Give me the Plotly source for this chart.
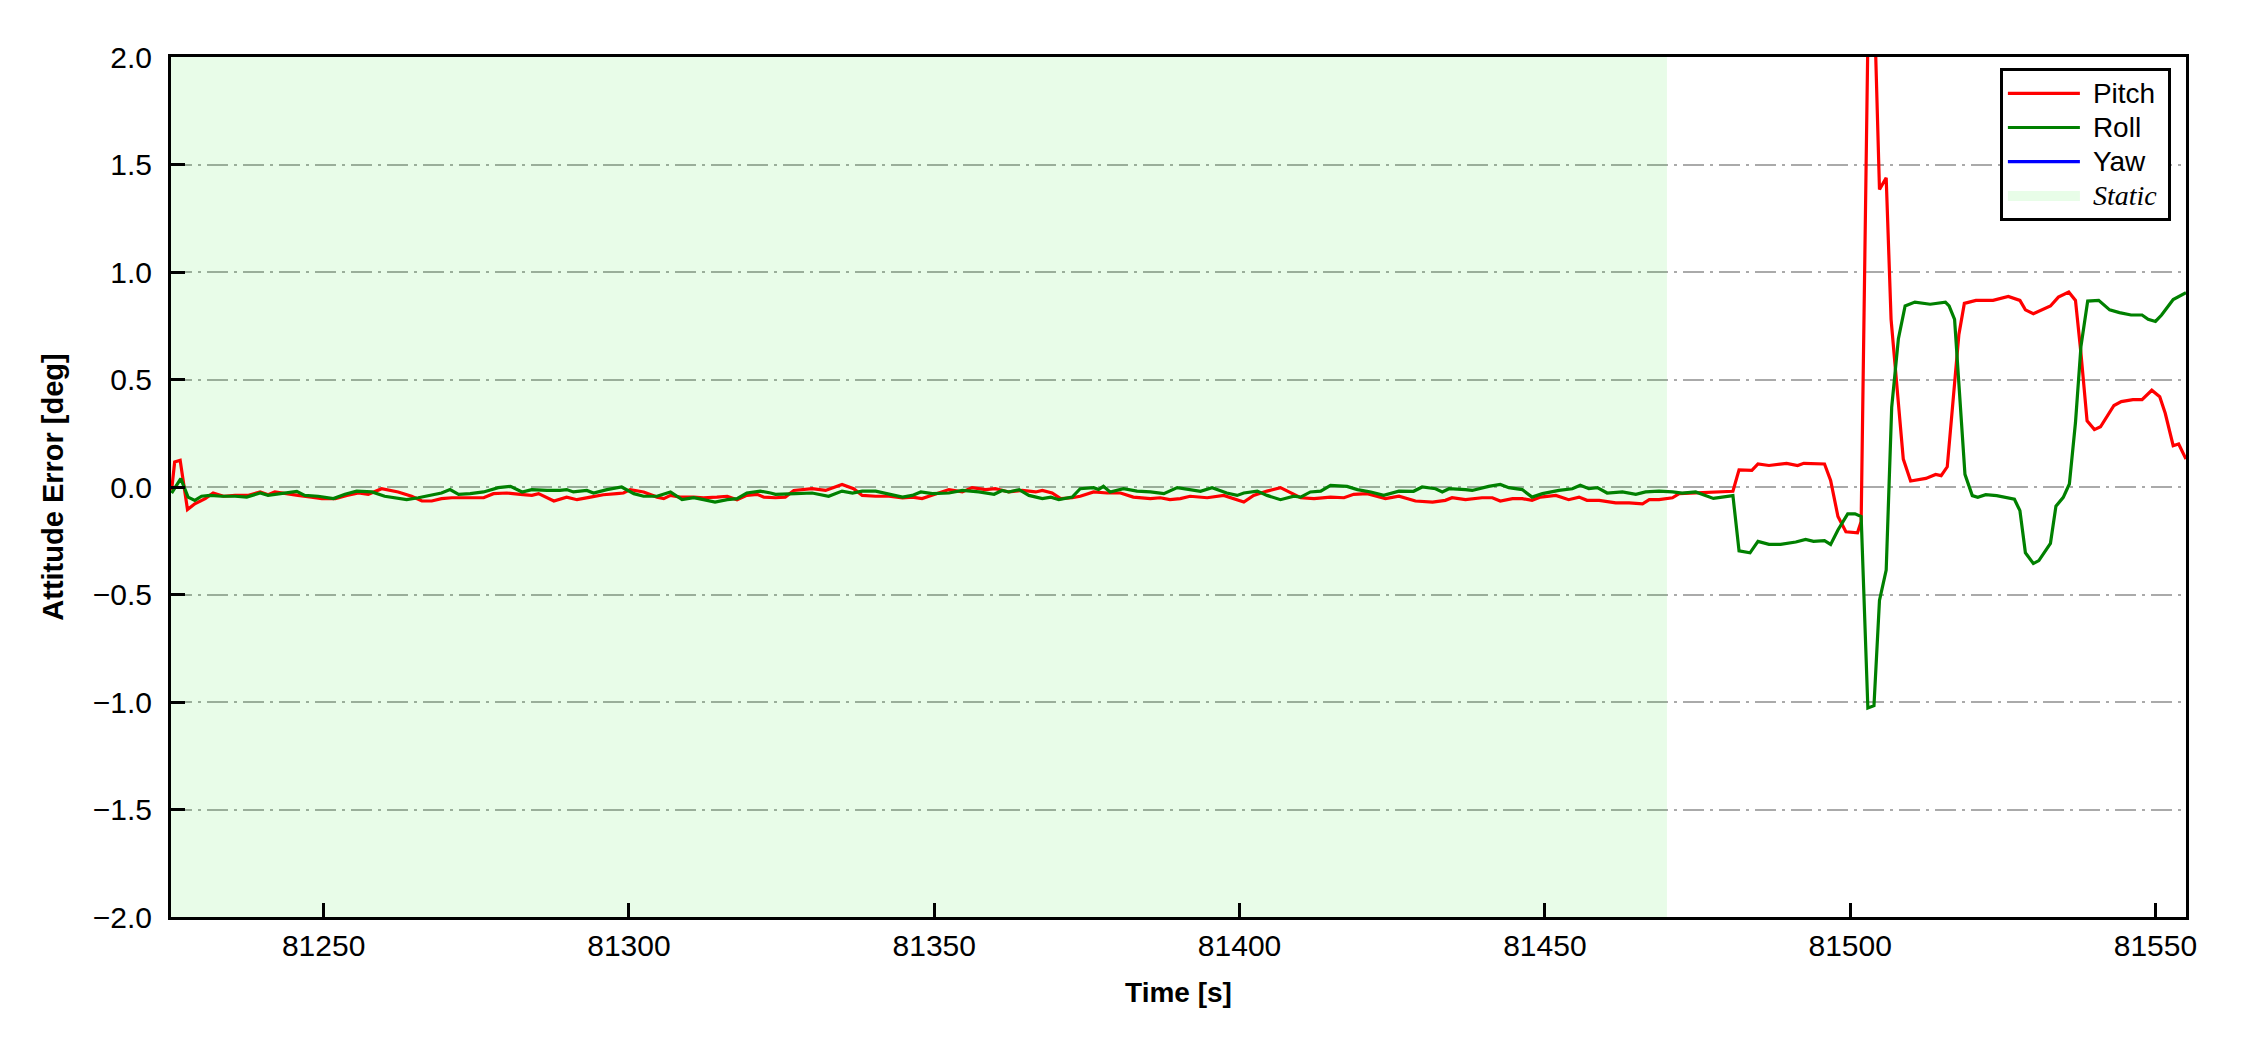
import plotly.graph_objects as go

# ---------------- data ----------------
pitch_t = [81225.1, 81225.6, 81226.5, 81227.7, 81228.9, 81230.6, 81231.9, 81233.6, 81235.5, 81237.7,
           81239.6, 81240.9, 81242.0, 81243.7, 81245.8, 81248.0, 81249.7, 81251.9, 81253.8, 81255.7,
           81257.3, 81259.5, 81262.2, 81264.4, 81266.1, 81267.7, 81269.3, 81271.0, 81273.2,
           81274.0, 81276.2, 81277.8, 81280.0, 81282.2, 81284.1, 81285.2, 81287.7, 81289.8, 81291.5,
           81293.7, 81295.8, 81298.0, 81299.1, 81300.2, 81302.4, 81304.6, 81305.7, 81306.8, 81308.4,
           81310.6, 81312.2, 81314.4, 81316.1, 81317.7, 81319.3, 81321.0, 81322.1,
           81324.0, 81325.6, 81327.0, 81330.0, 81332.2, 81334.9, 81336.8, 81338.2, 81340.4, 81342.6,
           81344.8, 81346.4, 81348.0, 81350.2, 81352.4, 81354.6, 81356.2, 81358.4, 81360.0, 81362.2,
           81364.4, 81366.6, 81367.7, 81369.3, 81370.7, 81372.6,
           81373.9, 81376.1, 81378.3, 81380.5, 81382.6, 81385.4, 81387.0, 81388.6, 81390.3, 81391.9,
           81394.7, 81397.4, 81399.6, 81400.7, 81402.3, 81404.5, 81406.7, 81408.0, 81410.0, 81412.2,
           81414.9, 81417.1, 81418.7, 81420.9, 81423.1,
           81423.9, 81426.1, 81428.8, 81431.6, 81433.7, 81434.8, 81437.0, 81439.7, 81441.4, 81442.7,
           81444.7, 81446.3, 81447.9, 81449.3, 81451.8, 81453.9, 81455.6, 81456.9, 81458.9, 81461.6,
           81463.8, 81466.0, 81467.1, 81468.7, 81470.9, 81472.0, 81474.7,
           81480.8, 81481.8, 81483.9, 81484.9, 81486.7, 81489.6, 81491.4, 81492.4, 81495.8, 81496.8,
           81498.0, 81499.3, 81501.2, 81501.8, 81503.3, 81504.8, 81505.9, 81506.7, 81508.7, 81509.9,
           81512.4, 81514.0, 81514.9, 81515.9, 81516.8, 81517.8, 81518.7, 81520.6, 81523.4, 81525.9,
           81527.8, 81528.7, 81530.0, 81531.9, 81532.8, 81534.1, 81535.8, 81536.9, 81537.8, 81538.8,
           81540.0, 81541.0, 81543.2, 81544.4, 81546.3, 81547.8, 81549.4, 81550.7, 81551.6, 81552.9,
           81553.8, 81555.0]
pitch_v = [-0.016, 0.116, 0.124, -0.105, -0.078, -0.054, -0.028, -0.043, -0.039, -0.039,
           -0.023, -0.036, -0.023, -0.031, -0.039, -0.047, -0.054, -0.054, -0.039, -0.028,
           -0.034, -0.008, -0.023, -0.043, -0.065, -0.065, -0.054, -0.050, -0.050,
           -0.050, -0.050, -0.031, -0.028, -0.034, -0.039, -0.031, -0.065, -0.047, -0.059,
           -0.047, -0.036, -0.031, -0.028, -0.012, -0.023, -0.047, -0.054, -0.039, -0.047,
           -0.047, -0.050, -0.047, -0.043, -0.059, -0.039, -0.034, -0.047,
           -0.050, -0.047, -0.016, -0.008, -0.016, 0.012, -0.008, -0.039, -0.043, -0.043,
           -0.051, -0.047, -0.054, -0.034, -0.012, -0.023, -0.003, -0.012, -0.008, -0.023,
           -0.016, -0.023, -0.016, -0.028, -0.054, -0.050,
           -0.043, -0.023, -0.028, -0.028, -0.047, -0.054, -0.050, -0.059, -0.054, -0.043,
           -0.050, -0.039, -0.059, -0.070, -0.039, -0.019, -0.003, -0.023, -0.050, -0.054,
           -0.047, -0.050, -0.034, -0.031, -0.050,
           -0.054, -0.043, -0.065, -0.070, -0.062, -0.050, -0.059, -0.050, -0.050, -0.065,
           -0.054, -0.054, -0.062, -0.047, -0.039, -0.059, -0.047, -0.062, -0.062, -0.074,
           -0.074, -0.078, -0.059, -0.059, -0.050, -0.031, -0.028,
           -0.020, 0.080, 0.077, 0.107, 0.100, 0.110, 0.100, 0.110, 0.107, 0.030,
           -0.137, -0.208, -0.213, -0.160, 2.900, 1.384, 1.438, 0.780, 0.130, 0.028,
           0.040, 0.058, 0.053, 0.094, 0.390, 0.708, 0.854, 0.868, 0.868, 0.886,
           0.868, 0.824, 0.806, 0.833, 0.842, 0.883, 0.907, 0.868, 0.620, 0.308,
           0.267, 0.280, 0.379, 0.397, 0.406, 0.406, 0.450, 0.420, 0.343, 0.192,
           0.200, 0.130]

roll_t = [81225.1, 81226.6, 81227.8, 81228.9, 81230.0, 81231.4, 81233.3, 81235.5, 81237.4, 81239.6,
          81240.9, 81243.1, 81245.6, 81246.9, 81249.1, 81251.6, 81253.5, 81255.4, 81257.9, 81260.0,
          81261.7, 81263.6, 81265.5, 81267.7, 81269.3, 81270.7, 81272.1,
          81274.0, 81276.2, 81278.6, 81280.6, 81282.5, 81284.1, 81286.6, 81288.7, 81289.8, 81290.9,
          81293.1, 81294.2, 81296.4, 81298.8, 81300.8, 81302.4, 81304.6, 81306.8, 81308.7, 81310.6,
          81312.2, 81314.1, 81316.1, 81317.7, 81319.3, 81321.5, 81323.2,
          81324.0, 81327.3, 81330.0, 81332.7, 81334.9, 81336.6, 81338.2, 81340.4, 81342.6, 81344.8,
          81346.4, 81347.8, 81349.7, 81352.4, 81354.6, 81357.3, 81359.8, 81361.1, 81362.2, 81363.9,
          81365.5, 81367.7, 81369.1, 81370.4, 81372.6,
          81373.9, 81376.1, 81376.9, 81377.7, 81378.8, 81381.0, 81383.2, 81385.4, 81387.6, 81389.8,
          81391.9, 81393.6, 81395.5, 81397.9, 81399.6, 81400.7, 81402.9, 81404.5, 81406.7, 81408.9,
          81410.0, 81411.6, 81413.3, 81414.9, 81417.6, 81419.3, 81421.5, 81423.6,
          81426.1, 81428.5, 81429.9, 81432.1, 81433.2, 81434.3, 81437.0, 81438.1, 81440.8, 81442.7,
          81444.1, 81446.3, 81447.9, 81449.6, 81452.3, 81454.5, 81455.8, 81457.2, 81458.6, 81460.2,
          81462.7, 81464.9, 81466.5, 81468.7, 81470.9, 81472.5, 81474.7,
          81477.6, 81480.8, 81481.8, 81483.6, 81484.9, 81486.7, 81488.6, 81491.1, 81492.7, 81494.0,
          81495.8, 81496.8, 81498.0, 81499.6, 81500.8, 81501.8, 81502.9, 81503.9, 81504.8, 81505.9,
          81506.8, 81507.9, 81509.0, 81510.6, 81513.1, 81515.6, 81516.2, 81517.1, 81518.1, 81518.8,
          81520.0, 81520.9, 81522.2, 81524.0, 81526.9, 81527.8, 81528.7, 81530.0, 81530.9, 81532.8,
          81533.7, 81534.9, 81535.9, 81536.9, 81537.8, 81538.9, 81540.7, 81542.5, 81544.1, 81546.0,
          81547.8, 81548.8, 81550.0, 81551.0, 81552.9, 81555.0]
roll_v = [-0.028, 0.039, -0.047, -0.062, -0.043, -0.039, -0.043, -0.043, -0.047, -0.028,
          -0.039, -0.031, -0.020, -0.039, -0.043, -0.054, -0.034, -0.019, -0.023, -0.043,
          -0.050, -0.059, -0.050, -0.039, -0.028, -0.012, -0.034,
          -0.031, -0.023, -0.003, 0.003, -0.023, -0.012, -0.016, -0.016, -0.012, -0.023,
          -0.016, -0.028, -0.012, 0.000, -0.031, -0.043, -0.043, -0.023, -0.059, -0.050,
          -0.059, -0.070, -0.059, -0.054, -0.028, -0.019, -0.028,
          -0.034, -0.031, -0.028, -0.043, -0.019, -0.028, -0.019, -0.019, -0.034, -0.047,
          -0.039, -0.023, -0.031, -0.028, -0.016, -0.023, -0.034, -0.016, -0.023, -0.012,
          -0.039, -0.054, -0.047, -0.059, -0.047,
          -0.008, -0.003, -0.012, 0.003, -0.023, -0.008, -0.019, -0.023, -0.031, -0.003,
          -0.012, -0.020, -0.003, -0.028, -0.039, -0.028, -0.019, -0.039, -0.059, -0.043,
          -0.047, -0.023, -0.019, 0.008, 0.003, -0.012, -0.023, -0.039,
          -0.019, -0.020, 0.000, -0.008, -0.023, -0.008, -0.012, -0.016, 0.003, 0.012,
          -0.003, -0.012, -0.047, -0.031, -0.016, -0.008, 0.008, -0.008, -0.003, -0.028,
          -0.023, -0.034, -0.023, -0.019, -0.023, -0.028, -0.023,
          -0.053, -0.040, -0.297, -0.306, -0.253, -0.267, -0.267, -0.256, -0.244, -0.253,
          -0.249, -0.267, -0.200, -0.125, -0.125, -0.137, -1.028, -1.017, -0.528, -0.386,
          0.370, 0.690, 0.842, 0.860, 0.850, 0.860, 0.842, 0.780, 0.370, 0.059,
          -0.040, -0.048, -0.036, -0.040, -0.057, -0.110, -0.306, -0.356, -0.342, -0.262,
          -0.089, -0.048, 0.014, 0.300, 0.655, 0.865, 0.868, 0.824, 0.811, 0.800,
          0.800, 0.780, 0.770, 0.800, 0.872, 0.904]

# Yaw is listed in the legend but no yaw curve is visible in the plotted window
yaw_t = [None]
yaw_v = [None]

static_start = 81225
static_end = 81470
x_range = [81225, 81555]
y_range = [-2.0, 2.0]
y_ticks = [-2.0, -1.5, -1.0, -0.5, 0.0, 0.5, 1.0, 1.5, 2.0]
x_ticks = [81250, 81300, 81350, 81400, 81450, 81500, 81550]

# ---------------- figure ----------------
SANS = "Liberation Sans, Arial, Helvetica, sans-serif"
SERIF = "Liberation Serif, Times New Roman, serif"
STATIC_COLOR = "rgba(0,225,0,0.09)"


def leg(text, family=SANS, italic=False):
    inner = f"<i>{text}</i>" if italic else text
    return f"\u2004<span style='font-size:28px;font-family:{family}'>{inner}</span>\u2005"


fig = go.Figure()

# static-period shading (drawn behind the curves)
fig.add_trace(go.Scatter(
    x=[static_start, static_end, static_end, static_start, static_start],
    y=[y_range[0] - 1, y_range[0] - 1, y_range[1] + 1, y_range[1] + 1, y_range[0] - 1],
    mode="lines", fill="toself", fillcolor=STATIC_COLOR,
    line=dict(width=0), hoverinfo="skip", showlegend=False,
))
fig.add_trace(go.Scatter(x=pitch_t, y=pitch_v, mode="lines", name=leg("Pitch"),
                         line=dict(color="#ff0000", width=3.2), legendrank=1))
fig.add_trace(go.Scatter(x=roll_t, y=roll_v, mode="lines", name=leg("Roll"),
                         line=dict(color="#008000", width=3.2), legendrank=2))
fig.add_trace(go.Scatter(x=yaw_t, y=yaw_v, mode="lines", name=leg("Yaw"),
                         line=dict(color="#0000ff", width=3.2), legendrank=3))
# legend entry for the static shading
fig.add_trace(go.Scatter(x=[None], y=[None], mode="lines", name=leg("Static", SERIF, True),
                         line=dict(color="rgb(232,253,232)", width=16), legendrank=4,
                         hoverinfo="skip"))

axis_common = dict(
    showline=True, linecolor="black", linewidth=3, mirror=True,
    ticks="inside", ticklen=14, tickwidth=2.5, tickcolor="black",
    tickfont=dict(family=SANS, size=30, color="black"),
    zeroline=False,
)

fig.update_xaxes(
    range=x_range, tickvals=x_ticks, tickformat="d", showgrid=False,
    title=dict(text="<b>Time [s]</b>", font=dict(family=SANS, size=28, color="black"), standoff=22),
    ticklabelstandoff=0,
    **axis_common,
)
fig.update_yaxes(
    range=y_range, tickvals=y_ticks, tickformat=".1f",
    showgrid=True, gridcolor="#aaaaaa", gridwidth=2.2, griddash="21px,6px,3px,6px",
    title=dict(text="<b>Attitude Error [deg]</b>", font=dict(family=SANS, size=29, color="black"), standoff=21),
    ticklabelstandoff=10,
    **axis_common,
)

fig.update_layout(
    width=2242, height=1042,
    margin=dict(l=163, r=64, t=49, b=133),
    paper_bgcolor="white", plot_bgcolor="white",
    showlegend=True,
    legend=dict(
        x=0.9925, y=0.987, xanchor="right", yanchor="top",
        bgcolor="white", bordercolor="black", borderwidth=3,
        font=dict(family=SANS, size=24, color="black"),
        tracegroupgap=0, itemwidth=72,
    ),
)

fig.write_html("out.html")
